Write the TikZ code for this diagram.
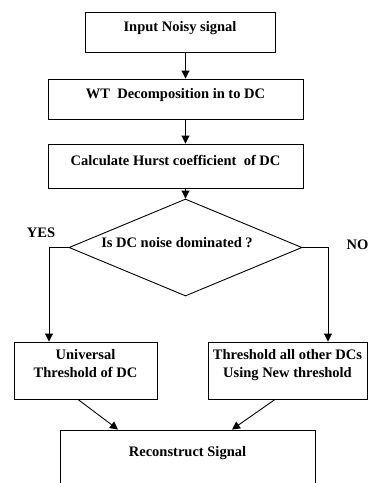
\documentclass[tikz,border=0pt]{standalone}
\usepackage{fontspec}
\setmainfont{Liberation Serif}
\usetikzlibrary{arrows.meta, shapes.geometric}

\begin{document}
\begin{tikzpicture}[x=1pt, y=-1pt, >={Triangle[length=8pt, width=8pt]},
    box/.style={draw, line width=0.9pt, align=center, inner sep=0pt, font=\fontsize{14.5}{18}\selectfont\bfseries},
    schrift/.style={font=\fontsize{14.5}{18}\selectfont\bfseries, inner sep=0pt},
    pfeil/.style={->, line width=0.9pt}]
        \useasboundingbox (0,0) rectangle (369,483);

        % Kästen oben
        \node[box, minimum width=190pt, text height=19.8pt, text depth=20.2pt] (input) at (180,32) {Input Noisy signal};
        \node[box, minimum width=255pt, text height=19.8pt, text depth=20.2pt] (wt) at (175.5,99) {WT\ \ Decomposition in to DC};
        \node[box, minimum width=255pt, text height=21.8pt, text depth=22.2pt] (hurst) at (175.5,166) {Calculate Hurst coefficient\ \ of DC};

        % Entscheidung
        \node[draw, diamond, minimum width=233pt, minimum height=97pt, inner sep=0pt, line width=0.9pt] (frage) at (185.5,247.5) {};
        \node[schrift] (fragetext) at (177,243) {Is DC noise dominated ?};
        \node[schrift] (ja) at (41,233) {YES};
        \node[schrift, anchor=west] (nein) at (346.5,245) {NO};

        % Kästen unten
        \node[box, minimum width=143pt, text height=35.8pt, text depth=21.2pt] (univ) at (85.5,370.5) {Universal\\Threshold of DC};
        \node[box, minimum width=159pt, text height=35.8pt, text depth=21.2pt] (neu) at (287.5,370.5) {Threshold all other DCs\\Using New threshold};
        \node[box, minimum width=255pt, text height=26.8pt, text depth=27.2pt] (rekon) at (187.5,457) {Reconstruct Signal};

        % Pfeile
        \draw[pfeil] (input.south -| frage.north) -- (wt.north -| frage.north);
        \draw[pfeil] (wt.south -| frage.north) -- (hurst.north -| frage.north);
        \draw[pfeil] (hurst.south -| frage.north) -- (frage.north);
        \draw[pfeil] (frage.west) -| ([xshift=-36.5pt]univ.north);
        \draw[pfeil] (frage.east) -| ([xshift=40.5pt]neu.north);
        \draw[pfeil] ([xshift=-7.5pt]univ.south) -- ([xshift=-69.5pt]rekon.north);
        \draw[pfeil] ([xshift=-12.5pt]neu.south) -- ([xshift=44.5pt]rekon.north);

    \end{tikzpicture}
\end{document}
